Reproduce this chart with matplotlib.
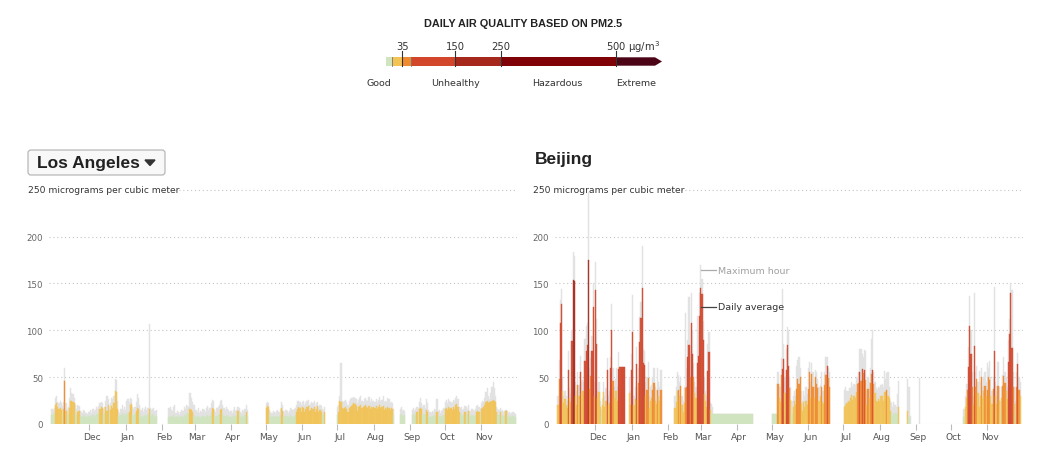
import numpy as np
import pandas as pd
import matplotlib
matplotlib.use('Agg')
import matplotlib.pyplot as plt
from matplotlib import font_manager
from matplotlib.patches import Rectangle, FancyBboxPatch, Polygon

plt.rcParams['font.family'] = ['DejaVu Sans']
installed = {f.name for f in font_manager.fontManager.ttflist}
narrow = 'Liberation Sans Narrow' in installed

N = None
days = pd.date_range('2017-10-30', '2018-11-30', freq='D')
month_starts = pd.date_range('2017-12-01', '2018-11-01', freq='MS')
month_labels = [d.strftime('%b') for d in month_starts]

# Los Angeles, daily average PM2.5 (ug/m3), Oct 30 2017 - Nov 30 2018
la_avg = ([10, 11] +
          [12, 20, 22, 18, 16, 17, 15, 12, 16, 46, 14, 10, 11, 17, 25, 25, 24, 22, 12, 10, 13, 14, 9, 8, 7, 9, 10, 8, 7, 9] +
          [8, 9, 7, 10, 8, 9, 11, 10, 12, 16, 18, 17, 10, 12, 18, 14, 20, 12, 15, 19, 17, 22, 35, 34, 16, 9, 8, 10, 12, 9, 11] +
          [9, 12, 11, 13, 20, 21, 10, 9, 11, 14, 17, 16, 12, 8, 9, 7, 10, 9, 8, 11, 16, 10, 9, 11, 10, 8, 9, N, N, N, N] +
          [N, N, N, N, N, N, 8, 9, 8, 7, 10, 8, 7, 9, 8, 6, 7, 9, 8, 10, 9, 11, 12, 10, 16, 15, 13, 9] +
          [10, 8, 7, 9, 6, 8, 7, 9, 8, 7, 9, 10, 8, 9, 12, 17, 16, 8, 7, 9, 10, 11, 15, 16, 12, 9, 8, 10, 9, 8, 7] +
          [8, 7, 9, 10, 8, 9, 14, 12, 8, 7, 9, 8, 10, 13, 9] + [N] * 15 +
          [17, 19, 18, 10, 8, 7, 9, 8, 7, 8, 9, 8, 10, 17, 14, 8, 7, 9, 8, 7, 8, 10, 9, 8, 9, 10, 13, 16, 18, 17, 13] +
          [18, 17, 13, 16, 18, 19, 14, 15, 17, 16, 18, 13, 16, 19, 13, 15, 13, 11, 10, 13] + [N] * 10 +
          [10, 13, 25, 24, 17, 16, 17, 18, 16, 13, 17, 18, 19, 20, 22, 21, 19, 14, 18, 19, 20, 17, 18, 19, 20, 18, 17, 19, 16, 18, 17] +
          [18, 17, 19, 16, 18, 20, 17, 18, 19, 15, 17, 16, 18, 17, 15, 17, 16, 10, N, N, N, N, N, 10, 11, 9, 10, N, N, N, N] +
          [N, N, 10, 11, 9, 10, 13, 11, 16, 17, 16, 10, 11, 10, 15, 13, 9, 8, 7, 9, 8, 10, 9, 13, 8, 9, 7, 8, 9, 10] +
          [16, 17, 15, 18, 16, 17, 15, 18, 16, 20, 21, 18, 13, 10, 11, 9, 10, 13, 11, 10, 14, 9, 8, 10, 9, 8, 10, 13, 14, 13, 11] +
          [16, 17, 18, 20, 23, 25, 22, 24, 23, 25, 26, 25, 24, 13, 11, 10, 13, 9, 10, 8, 9, 14, 10, 8, 9, 7, 8, 9, 8, 7])

# Los Angeles, maximum hour
la_max = ([16, 15] +
          [17, 28, 30, 24, 22, 25, 22, 19, 24, 60, 22, 16, 18, 28, 38, 33, 32, 28, 20, 16, 20, 19, 14, 13, 12, 15, 14, 12, 11, 13] +
          [13, 15, 12, 16, 14, 15, 18, 16, 19, 22, 23, 22, 16, 18, 25, 30, 27, 18, 22, 28, 27, 30, 48, 47, 25, 14, 12, 16, 20, 15, 18] +
          [15, 25, 27, 24, 28, 27, 18, 16, 18, 24, 32, 28, 20, 15, 17, 13, 16, 18, 15, 17, 107, 17, 15, 16, 17, 14, 15, N, N, N, N] +
          [N, N, N, N, N, N, 17, 18, 15, 14, 18, 20, 12, 14, 13, 11, 13, 15, 14, 18, 16, 20, 19, 18, 33, 28, 24, 20] +
          [20, 15, 13, 17, 12, 14, 13, 16, 15, 13, 17, 19, 15, 17, 22, 26, 25, 15, 13, 17, 18, 20, 25, 26, 20, 17, 15, 18, 16, 15, 13] +
          [14, 12, 15, 18, 14, 15, 18, 17, 13, 12, 15, 14, 16, 20, 15] + [N] * 15 +
          [22, 24, 22, 15, 13, 12, 14, 13, 12, 14, 15, 13, 16, 24, 20, 14, 13, 15, 14, 12, 14, 17, 16, 15, 16, 17, 20, 25, 25, 24, 20] +
          [24, 25, 20, 22, 25, 26, 20, 21, 23, 22, 25, 19, 22, 24, 18, 20, 19, 16, 15, 18] + [N] * 10 +
          [18, 20, 30, 65, 25, 24, 25, 26, 24, 20, 25, 27, 28, 28, 29, 28, 27, 22, 26, 28, 30, 25, 24, 27, 28, 26, 25, 29, 24, 27, 25] +
          [25, 23, 27, 24, 26, 29, 25, 26, 30, 23, 25, 24, 28, 27, 22, 24, 22, 16, N, N, N, N, N, 16, 18, 15, 14, N, N, N, N] +
          [N, N, 15, 17, 14, 16, 18, 17, 24, 28, 22, 18, 20, 17, 27, 22, 15, 13, 12, 14, 13, 16, 15, 27, 14, 15, 12, 14, 15, 17] +
          [24, 26, 22, 27, 25, 24, 22, 26, 25, 28, 30, 27, 18, 17, 18, 15, 16, 19, 18, 16, 20, 14, 14, 16, 15, 14, 16, 19, 20, 18, 17] +
          [22, 25, 24, 28, 34, 38, 30, 27, 33, 40, 45, 38, 30, 18, 16, 15, 17, 14, 15, 13, 14, 15, 14, 12, 13, 11, 12, 13, 12, 11])

# Beijing, daily average
bj_avg = ([20, 48] +
          [108, 128, 35, 22, 27, 20, 17, 58, 28, 24, 89, 154, 153, 30, 20, 42, 30, 56, 33, 35, 35, 67, 78, 84, 175, 37, 51, 78, 125, 30] +
          [143, 85, 28, 34, 18, 9, 20, 34, 18, 25, 58, 20, 22, 60, 100, 46, 28, 35, 35, 25, 59, 61, 61, 61, 61, 61, N, N, N, 33, 20] +
          [58, 98, 20, 27, 64, 26, 44, 87, 113, 145, 65, 63, 30, 36, 49, 17, 25, 28, 36, 44, 25, 21, 36, 30, 25, 36, N, N, N, N, N] +
          [N, N, N, N, N, N, 17, 24, 35, 36, 30, 41, 20, 13, 22, 38, 40, 72, 84, 50, 108, 75, 50, 33, 28, 65, 73, 115] +
          [145, 139, 90, 32, 25, 18, 57, 77, 15] + [11] * 22 +
          [11] * 14 + [N] * 16 +
          [11, 11, 11, 11, 11, 43, 28, 23, 52, 59, 69, 33, 58, 84, 62, 38, 26, 11, 18, 25, 20, 37, 48, 43, 50, 21, 14, 23, 18, 25, 20] +
          [37, 55, 28, 53, 39, 28, 50, 43, 38, 25, 30, 39, 23, 21, 42, 52, 62, 49, 39] + [N] * 11 +
          [N, 18, 20, 22, 25, 23, 28, 31, 26, 30, 28, 34, 43, 44, 56, 46, 59, 54, 58, 47, 20, 37, 28, 44, 53, 58, 43, 33, 25, 23, 27] +
          [25, 30, 30, 25, 34, 34, 36, 30, 28, 14, 12, 9, 11, 12, 10, 12, 18, N, N, N, N, N, N, N, 14, 7, N, N, N, N, N] +
          [N] * 30 +
          [N] * 11 + [7, 18, 28, 36, 61, 105, 75, 39, 20, 83, 39, 48, 33, 18, 30, 50, 28, 35, 41, 30] +
          [36, 50, 47, 30, 21, 37, 78, 30, 21, 41, 25, 11, 28, 41, 51, 44, 35, 27, 66, 96, 140, 81, 40, 21, 11, 40, 64, 36, 30, N])

# Beijing, maximum hour
bj_max = ([30, 68] +
          [132, 144, 50, 30, 35, 30, 25, 78, 38, 32, 100, 184, 179, 45, 35, 55, 42, 73, 45, 47, 45, 91, 105, 108, 247, 60, 70, 94, 150, 45] +
          [173, 112, 35, 45, 25, 15, 28, 45, 30, 38, 70, 30, 35, 72, 128, 60, 40, 48, 60, 40, 77, 61, 61, 61, 61, 61, N, N, N, 50, 35] +
          [75, 138, 30, 40, 82, 38, 60, 114, 130, 190, 80, 78, 45, 50, 66, 30, 40, 42, 50, 60, 40, 35, 60, 45, 40, 58, N, N, N, N, N] +
          [N, N, N, N, N, N, 30, 40, 55, 52, 45, 50, 30, 25, 40, 118, 60, 90, 135, 75, 140, 100, 65, 45, 40, 115, 100, 140] +
          [170, 155, 110, 50, 35, 30, 85, 98, 22, 21, 18] + [11] * 20 +
          [11] * 14 + [N] * 16 +
          [11, 11, 11, 11, 11, 55, 40, 40, 70, 144, 85, 50, 80, 103, 100, 50, 40, 25, 30, 35, 30, 62, 68, 71, 60, 35, 25, 35, 30, 40, 32] +
          [60, 66, 45, 65, 55, 40, 58, 55, 48, 40, 42, 55, 35, 35, 55, 71, 71, 60, 55] + [N] * 11 +
          [N, 36, 40, 35, 35, 38, 38, 45, 40, 43, 42, 50, 50, 55, 80, 80, 75, 72, 79, 78, 35, 50, 45, 60, 91, 100, 55, 45, 38, 36, 40] +
          [38, 42, 43, 40, 57, 48, 54, 55, 40, 25, 22, 18, 23, 20, 18, 32, 46, N, N, N, N, N, N, N, 48, 39, 9, N, N, N, N] +
          [N, N, N, 49] + [N] * 26 +
          [N] * 11 + [16, 30, 43, 43, 82, 137, 100, 55, 30, 140, 55, 62, 45, 57, 45, 60, 40, 50, 55, 45] +
          [65, 60, 67, 50, 35, 50, 146, 45, 35, 66, 40, 25, 40, 52, 71, 55, 50, 40, 90, 112, 150, 143, 55, 40, 25, 55, 76, 50, 45, N])

# AQI categories for PM2.5
aqi_breaks = [12, 35.4, 55.4, 150.4, 250.4, 500.4]
aqi_colors = ['#d0e5bf', '#f3c455', '#f08a2e', '#d2462c', '#a6281c', '#7e0206', '#4a0416']
legend_edges = [0, 12, 35, 55, 150, 250, 500]
legend_ticks = [35, 150, 250, 500]
legend_names = ['Good', 'Unhealthy', 'Hazardous', 'Extreme']
legend_name_x = [379, 456, 557, 636]


def pick_color(v):
    return aqi_colors[int(np.searchsorted(aqi_breaks, v))]


def draw_panel(ax, avg, mx):
    avg = np.array(avg, dtype=float)
    mx = np.array(mx, dtype=float)
    one = pd.Timedelta(days=1)
    for v in [0, 50, 100, 150, 200]:
        ax.axhline(v, color='#c4c4c4', lw=0.8, ls=(0, (1, 2.5)), zorder=1)
    ax.hlines(250, days[105], days[-1] + one, color='#c4c4c4', lw=0.8, ls=(0, (1, 2.5)), zorder=1)
    ok = ~np.isnan(mx)
    ax.bar(days[ok], mx[ok], width=1.0, color='#e2e2e2', edgecolor='#e2e2e2',
           linewidth=0.3, zorder=2)
    ok = ~np.isnan(avg)
    cols = [pick_color(v) for v in avg[ok]]
    ax.bar(days[ok], avg[ok], width=1.0, color=cols, edgecolor=cols,
           linewidth=0.3, alpha=0.88, zorder=3)
    ax.set_xlim(days[0] - 3 * one, days[-1] + one)
    ax.set_ylim(0, 255)
    for s in ax.spines.values():
        s.set_visible(False)
    ax.set_yticks([0, 50, 100, 150, 200])
    ax.tick_params(axis='y', length=0, pad=4, labelsize=6.2, labelcolor='#666666')
    ax.set_xticks(month_starts)
    ax.set_xticklabels([''] * len(month_starts))
    ax.set_xticks(month_starts + 2 * one, minor=True)
    ax.set_xticklabels(month_labels, minor=True)
    ax.tick_params(axis='x', which='major', length=4, width=0.8, color='#bbbbbb')
    ax.tick_params(axis='x', which='minor', length=0, pad=6, labelsize=6.6, labelcolor='#555555')
    ax.patch.set_alpha(0)


fig = plt.figure(figsize=(10.5, 4.64), dpi=100)
W, H = 1050, 464

ax_la = fig.add_axes([48.5 / W, 39 / H, 468 / W, 239 / H])
ax_bj = fig.add_axes([554.5 / W, 39 / H, 468 / W, 239 / H])
draw_panel(ax_la, la_avg, la_max)
draw_panel(ax_bj, bj_avg, bj_max)

# labels for the two series on the Beijing panel
d0, d1, d2 = days[122], days[135], days[137]
ax_bj.plot([d0, d1], [164, 164], color='#aaaaaa', lw=0.9, zorder=4)
ax_bj.text(d2, 164, 'Maximum hour', fontsize=6.8, color='#a0a0a0', va='center', ha='left')
ax_bj.plot([d0, d1], [125, 125], color='#444444', lw=0.9, zorder=4)
ax_bj.text(d2, 125, 'Daily average', fontsize=6.8, color='#333333', va='center', ha='left')

# overlay in pixel coordinates for titles and legend
ov = fig.add_axes([0, 0, 1, 1], zorder=5)
ov.set_xlim(0, W)
ov.set_ylim(H, 0)
ov.axis('off')

ov.text(28, 191, '250 micrograms per cubic meter', fontsize=6.6, color='#333333', va='center', ha='left')
ov.text(533, 191, '250 micrograms per cubic meter', fontsize=6.6, color='#333333', va='center', ha='left')

ov.add_patch(FancyBboxPatch((28, 151), 137, 25, boxstyle='round,pad=0,rounding_size=3',
                            facecolor='#f8f8f8', edgecolor='#b8b8b8', lw=0.9))
ov.text(37, 164, 'Los Angeles', fontsize=12.5, fontweight='bold', color='#222222',
        family=['Liberation Sans', 'DejaVu Sans'], va='center', ha='left')
ov.add_patch(Polygon([(145, 161), (155, 161), (150, 166.5)], closed=True, color='#333333'))
ov.text(535, 160, 'Beijing', fontsize=12.5, fontweight='bold', color='#222222',
        family=['Liberation Sans', 'DejaVu Sans'], va='center', ha='left')

# legend
if narrow:
    ov.text(523, 24, 'DAILY AIR QUALITY BASED ON PM2.5', fontsize=9.3, fontweight='bold',
            color='#222222', family=['Liberation Sans Narrow'], ha='center', va='center')
else:
    ov.text(523, 24, 'DAILY AIR QUALITY BASED ON PM2.5', fontsize=7.8, fontweight='bold',
            color='#222222', family=['Liberation Sans', 'DejaVu Sans'], ha='center', va='center')


def lx(v):
    return 386 + 0.46 * v


y_top, y_bot = 58.3, 66.7
for i in range(6):
    x0, x1 = lx(legend_edges[i]), lx(legend_edges[i + 1])
    ov.add_patch(Rectangle((x0, y_top), x1 - x0, y_bot - y_top, color=aqi_colors[i], lw=0))
x5 = lx(500)
ov.add_patch(Polygon([(x5, y_top), (655, y_top), (662, (y_top + y_bot) / 2), (655, y_bot), (x5, y_bot)],
                     closed=True, color=aqi_colors[6], lw=0))
for v in [12, 55]:
    ov.plot([lx(v), lx(v)], [y_top, y_bot], color='#777777', lw=0.6)
for v in legend_ticks:
    ov.plot([lx(v), lx(v)], [52, y_bot], color='#333333', lw=0.8)
for v in legend_ticks[:-1]:
    ov.text(lx(v), 47.5, str(v), fontsize=7.2, color='#333333', ha='center', va='center')
ov.text(lx(500) - 10, 47.5, r'500 μg/m$^3$', fontsize=7.2, color='#333333', ha='left', va='center')
for name, x in zip(legend_names, legend_name_x):
    ov.text(x, 84, name, fontsize=6.8, color='#333333', ha='center', va='center')

fig.savefig('out.png', dpi=100)
